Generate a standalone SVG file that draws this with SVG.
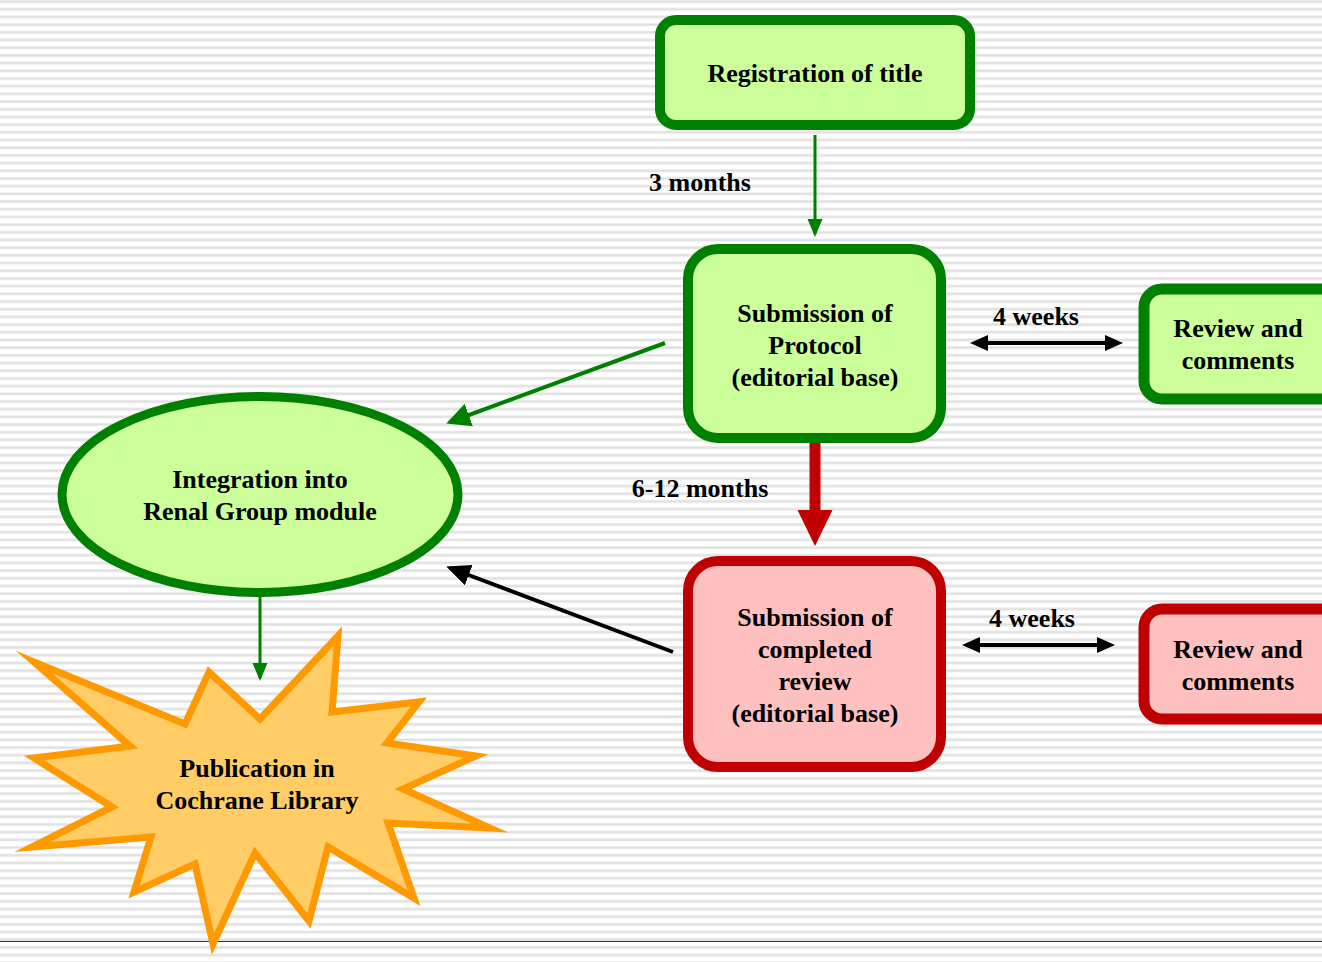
<svg xmlns="http://www.w3.org/2000/svg" width="1322" height="962" viewBox="0 0 1322 962">
<style>
.t{font-family:"Liberation Serif","Times New Roman",serif;font-weight:bold;font-size:26px;fill:#000;text-anchor:middle}
.gbox{fill:#ccff99;stroke:#008000;stroke-width:10}
.rbox{fill:#ffc0c0;stroke:#c00000;stroke-width:10}
.dbl{stroke:#000;stroke-width:4}
.head{fill:#000}
</style>
<defs>
<pattern id="bg" x="0" y="0" width="20" height="7.69" patternUnits="userSpaceOnUse">
<rect width="20" height="7.69" fill="#ffffff"/>
<rect y="0" width="20" height="3.2" fill="#ececec"/>
<rect y="0.8" width="20" height="1.6" fill="#e0e0e0"/>
</pattern>
<marker id="ag" markerWidth="6" markerHeight="6" refX="5" refY="3" orient="auto" markerUnits="strokeWidth"><path d="M0,0 L6,3 L0,6 Z" fill="#008000"/></marker>
<marker id="ag3" markerWidth="6" markerHeight="6" refX="5" refY="3" orient="auto" markerUnits="strokeWidth"><path d="M0,0.5 L6,3 L0,5.5 Z" fill="#008000"/></marker>
<marker id="ak" markerWidth="6" markerHeight="6" refX="5" refY="3" orient="auto" markerUnits="strokeWidth"><path d="M0,0.3 L6,3 L0,5.7 Z" fill="#000"/></marker>
</defs>
<rect width="1322" height="962" fill="url(#bg)"/>
<line x1="0" y1="941.5" x2="1322" y2="941.5" stroke="#c00000" stroke-width="1"/>

<g id="connectors">
<line x1="815" y1="135" x2="815" y2="234" stroke="#008000" stroke-width="3" marker-end="url(#ag3)"/>
<line x1="665" y1="343" x2="450" y2="422" stroke="#008000" stroke-width="4" marker-end="url(#ag)"/>
<line x1="673" y1="652" x2="450" y2="568" stroke="#000" stroke-width="4" marker-end="url(#ak)"/>
<line x1="260" y1="597" x2="260" y2="678" stroke="#008000" stroke-width="3" marker-end="url(#ag3)"/>
<path d="M809.5,443 H820.5 V510 H832.5 L815,546 L797.5,510 H809.5 Z" fill="#c00000"/>
<line class="dbl" x1="985" y1="343" x2="1108" y2="343"/>
<path class="head" d="M970,343 L988,335 L988,351 Z M1123,343 L1105,335 L1105,351 Z"/>
<line class="dbl" x1="977" y1="645" x2="1100" y2="645"/>
<path class="head" d="M962,645 L980,637 L980,653 Z M1115,645 L1097,637 L1097,653 Z"/>
<text class="t" x="700" y="191">3 months</text>
<text class="t" x="700" y="497">6-12 months</text>
<text class="t" x="1036" y="325">4 weeks</text>
<text class="t" x="1032" y="627">4 weeks</text>
</g>

<g id="registration">
<rect class="gbox" x="660" y="20" width="310" height="105" rx="16"/>
<text class="t" x="815" y="82">Registration of title</text>
</g>

<g id="protocol">
<rect class="gbox" x="688" y="249" width="253" height="189" rx="30"/>
<text class="t" x="815" y="322">Submission of</text>
<text class="t" x="815" y="354">Protocol</text>
<text class="t" x="815" y="386">(editorial base)</text>
</g>

<g id="review1">
<rect class="gbox" x="1144" y="289" width="200" height="110" rx="18" style="stroke-width:11"/>
<text class="t" x="1238" y="337">Review and</text>
<text class="t" x="1238" y="369">comments</text>
</g>

<g id="completed">
<rect class="rbox" x="688" y="561" width="253" height="206" rx="30"/>
<text class="t" x="815" y="626">Submission of</text>
<text class="t" x="815" y="658">completed</text>
<text class="t" x="815" y="690">review</text>
<text class="t" x="815" y="722">(editorial base)</text>
</g>

<g id="review2">
<rect class="rbox" x="1144" y="609" width="200" height="110" rx="18" style="stroke-width:11"/>
<text class="t" x="1238" y="658">Review and</text>
<text class="t" x="1238" y="690">comments</text>
</g>

<g id="integration">
<ellipse cx="260" cy="494.5" rx="198" ry="98" fill="#ccff99" stroke="#008000" stroke-width="9"/>
<text class="t" x="260" y="488">Integration into</text>
<text class="t" x="260" y="520">Renal Group module</text>
</g>

<g id="publication">
<polygon points="34,662 185,724 209,672 260,719 338,636 332,712 419,702 387,743 476,756 403,789 490,828 388,823 414,898 328,847 309,921 255,853 213,944 195,864 134,892 151,837 32,847 112,807 34,758 130,746" fill="#ffcc66" stroke="#ff9900" stroke-width="7" stroke-linejoin="miter" stroke-miterlimit="10"/>
<text class="t" x="257" y="777">Publication in</text>
<text class="t" x="257" y="809">Cochrane Library</text>
</g>
</svg>
